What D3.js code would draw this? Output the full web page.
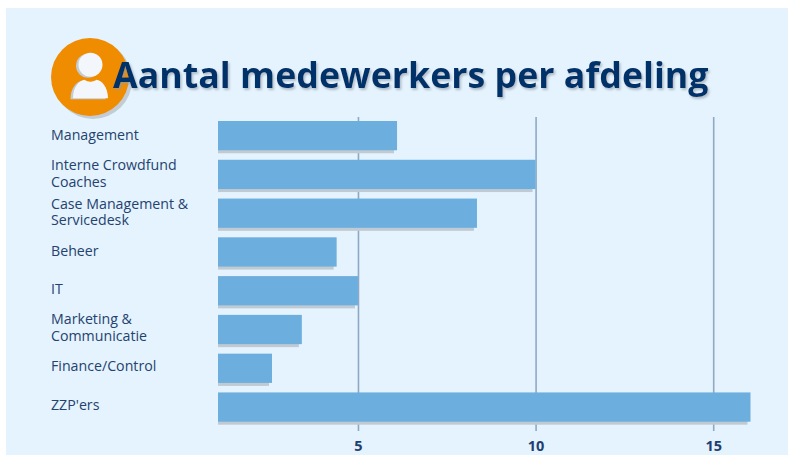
<!DOCTYPE html>
<html lang="nl">
<head>
<meta charset="utf-8">
<script src="https://cdn.jsdelivr.net/npm/d3@7"></script>
<style>
  html, body { margin: 0; padding: 0; background: #fff; }
  svg { display: block; }
  text { font-family: "Open Sans", sans-serif; }
</style>
</head>
<body>
<svg id="chart" width="788" height="455"></svg>
<script>
const titleText = "Aantal medewerkers per afdeling";
const departments = [
  ["Management"],
  ["Interne Crowdfund", "Coaches"],
  ["Case Management &", "Servicedesk"],
  ["Beheer"],
  ["IT"],
  ["Marketing &", "Communicatie"],
  ["Finance/Control"],
  ["ZZP'ers"]
];
const headcounts = [6.1, 10, 8.35, 4.4, 5, 3.42, 2.58, 16.05];
const tickValues = [5, 10, 15];

const svg = d3.select("#chart");
const defs = svg.append("defs");

const titleGlow = defs.append("filter").attr("id", "titleShadow")
  .attr("x", "-5%").attr("y", "-20%").attr("width", "110%").attr("height", "140%");
titleGlow.append("feDropShadow")
  .attr("dx", 1.5).attr("dy", 2).attr("stdDeviation", 0.9)
  .attr("flood-color", "#8d9aa8").attr("flood-opacity", 0.6);

// Page panel
svg.append("rect").attr("x", 6).attr("y", 8).attr("width", 782).attr("height", 447).attr("fill", "#e4f3fd");

const x = d3.scaleLinear().domain([1.06, 16.05]).range([218, 750.5]);
const y = d3.scaleBand().domain(d3.range(departments.length)).range([121, 421.7]).paddingInner(0.245).paddingOuter(0);
const labelY = d3.scalePoint().domain(d3.range(departments.length)).range([135.3, 405.3]);

// Vertical gridlines and bottom tick labels
const axis = d3.axisBottom(x).tickValues(tickValues).tickSize(314).tickFormat(d3.format("d"));
const axisG = svg.append("g").attr("transform", "translate(0,117)").call(axis);
axisG.select(".domain").remove();
axisG.selectAll(".tick line").attr("stroke", "#8fa9c5").attr("stroke-width", 1.6);
axisG.selectAll(".tick text")
  .attr("y", 324)
  .attr("fill", "#1f3f70")
  .attr("font-size", 14.5)
  .attr("font-weight", 700);

// Bars with a hard grey shadow just below them
const rows = svg.append("g").selectAll("g").data(headcounts).join("g");
rows.append("rect")
  .attr("x", x.range()[0])
  .attr("y", (d, i) => y(i) + 3)
  .attr("width", d => x(d) - x.range()[0] - 3)
  .attr("height", y.bandwidth())
  .attr("fill", "#c0cad3");
rows.append("rect")
  .attr("x", x.range()[0])
  .attr("y", (d, i) => y(i))
  .attr("width", d => x(d) - x.range()[0])
  .attr("height", y.bandwidth())
  .attr("fill", "#6cafdf");

// Department labels, one or two lines
const lineHeight = 16.8;
const labels = svg.append("g").selectAll("text").data(departments).join("text")
  .attr("fill", "#24426f")
  .attr("font-size", 14.2);
labels.selectAll("tspan").data((d, i) => d.map((line, k) => ({ line, k, n: d.length, i }))).join("tspan")
  .attr("x", 51)
  .attr("y", d => labelY(d.i) + 4.6 + (d.k - (d.n - 1) / 2) * lineHeight)
  .text(d => d.line);

// Round badge with a person icon
const badge = svg.append("g").attr("transform", "translate(90,77)");
badge.append("circle").attr("cx", 3).attr("cy", 3).attr("r", 39).attr("fill", "#c3ccd4");
badge.append("circle").attr("r", 39).attr("fill", "#f08c00");
const person = (dx, dy, fill) => {
  const g = badge.append("g").attr("transform", `translate(${dx},${dy})`).attr("fill", fill);
  g.append("circle").attr("cy", -12).attr("r", 12);
  g.append("path").attr("d", "M-17.5,21.5 C-17.5,10 -11,3.5 -6,3 C-3,5.5 3,5.5 6,3 C11,3.5 17.5,10 17.5,21.5 Z");
};
person(-2, 0.8, "#c3ccd4");
person(0.5, -0.2, "#f3f7fb");

// Heading
svg.append("text")
  .attr("x", 113)
  .attr("y", 88)
  .attr("fill", "#05316b")
  .attr("font-size", 35.75)
  .attr("font-weight", 700)
  .attr("filter", "url(#titleShadow)")
  .text(titleText);
</script>
</body>
</html>
